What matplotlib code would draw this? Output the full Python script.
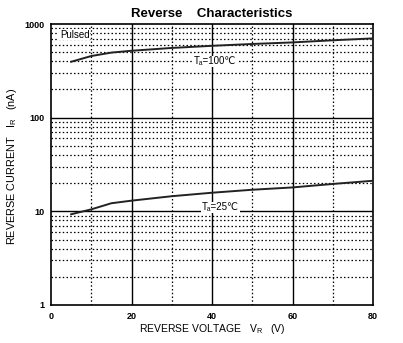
import matplotlib
matplotlib.use("Agg")
import matplotlib.pyplot as plt
from matplotlib.ticker import FixedLocator, NullFormatter

plt.rcParams['font.family'] = ['Liberation Sans', 'DejaVu Sans']

v_100 = [5, 10, 15, 20, 30, 40, 50, 60, 70, 80]
i_100 = [395, 455, 495, 518, 555, 585, 612, 636, 670, 702]
v_25 = [5, 10, 15, 20, 30, 40, 50, 60, 70, 80]
i_25 = [9.3, 10.5, 12.2, 13.0, 14.5, 15.8, 17.0, 18.0, 19.6, 21.2]

x_ticks = [0, 20, 40, 60, 80]
y_ticks = [1, 10, 100, 1000]
y_labels = ['1', '10', '100', '1000']

fig = plt.figure(figsize=(4.03, 3.43), dpi=100)
ax = fig.add_axes([51/403, 1-305/343, (373-51)/403, (305-24)/343])
ax.set_yscale('log')
ax.set_xlim(0, 80)
ax.set_ylim(1, 1000)

# grid
for x in [10, 30, 50, 70]:
    ax.axvline(x, color='black', lw=0.9, ls=(0, (1.2, 1.8)), zorder=1)
for x in [20, 40, 60]:
    ax.axvline(x, color='black', lw=1.0, zorder=1)
for dec in [1, 10, 100]:
    for m in range(2, 10):
        ax.axhline(dec*m, color='black', lw=0.9, ls=(0, (1.2, 1.8)), zorder=1)
for y in [10, 100]:
    ax.axhline(y, color='black', lw=1.0, zorder=1)

ax.plot(v_100, i_100, color='#222222', lw=1.4, zorder=3)
ax.plot(v_25, i_25, color='#222222', lw=1.4, zorder=3)

bbox = dict(facecolor='white', edgecolor='none', pad=0.5)
fam = ['Liberation Sans', 'DejaVu Sans']
ax.text(2.2, 770, 'Pulsed', fontsize=7, ha='left', va='center', bbox=bbox, zorder=4)
ax.text(35.5, 400, 'Tₐ=100℃', family=fam, fontsize=7, ha='left', va='center', bbox=bbox, zorder=4)
ax.text(37.5, 11.0, 'Tₐ=25℃', family=fam, fontsize=7, ha='left', va='center', bbox=bbox, zorder=4)

ax.set_xticks(x_ticks)
ax.set_xticklabels([str(t) for t in x_ticks], fontsize=6.5, fontweight='bold')
ax.yaxis.set_major_locator(FixedLocator(y_ticks))
ax.set_yticklabels(y_labels, fontsize=6.5, fontweight='bold')
ax.yaxis.set_minor_formatter(NullFormatter())
ax.tick_params(which='both', length=0, pad=5)

for s in ax.spines.values():
    s.set_linewidth(1.2)

ax.set_title('Reverse    Characteristics', fontsize=9.5, fontweight='bold', pad=5)
fig.text(212/403, 1-329/343, r'REVERSE VOLTAGE   V$_{\mathregular{R}}$   (V)',
         fontsize=7.5, ha='center', va='center')
fig.text(12/403, 1-166/343, r'REVERSE CURRENT   I$_{\mathregular{R}}$   (nA)',
         fontsize=7.8, ha='center', va='center', rotation=90)

fig.savefig('out.png', dpi=100)
